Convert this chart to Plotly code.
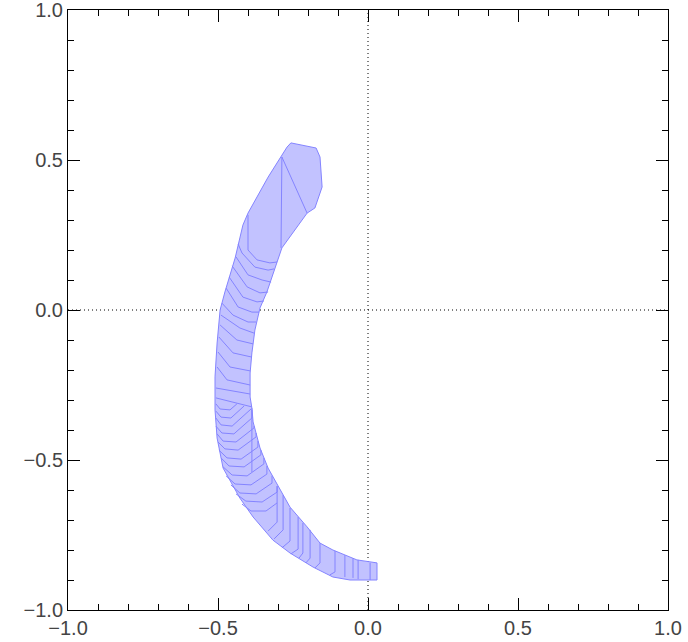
import plotly.graph_objects as go

# contorno de la media luna (borde exterior de abajo hacia arriba, luego borde interior)
borde_x = [0.030, -0.060, -0.117, -0.183, -0.260, -0.317, -0.383, -0.427, -0.483, -0.503,
           -0.510, -0.510, -0.503, -0.493, -0.477, -0.443, -0.417, -0.400, -0.333, -0.287,
           -0.270, -0.257, -0.173, -0.160, -0.153, -0.177, -0.203, -0.287, -0.303, -0.337,
           -0.360, -0.377, -0.387, -0.393, -0.393, -0.387, -0.383, -0.360, -0.333, -0.287,
           -0.260, -0.203, -0.160, -0.117, -0.037, 0.030, 0.030]
borde_y = [-0.900, -0.900, -0.890, -0.857, -0.810, -0.767, -0.690, -0.627, -0.527, -0.427,
           -0.333, -0.223, -0.110, 0.000, 0.060, 0.173, 0.283, 0.323, 0.443, 0.517,
           0.543, 0.557, 0.540, 0.510, 0.410, 0.340, 0.323, 0.207, 0.160, 0.060,
           0.007, -0.067, -0.143, -0.210, -0.290, -0.327, -0.373, -0.460, -0.527, -0.607,
           -0.657, -0.723, -0.777, -0.800, -0.833, -0.843, -0.900]

# bordes internos visibles de los poligonos superpuestos
lineas_x = [
    [-0.287, -0.290], [-0.287, -0.203],
    [-0.400, -0.400, -0.370, -0.327, -0.303],
    [-0.433, -0.420, -0.377, -0.333, -0.313],
    [-0.440, -0.400, -0.353, -0.323],
    [-0.453, -0.403, -0.360, -0.333],
    [-0.463, -0.417, -0.370, -0.347],
    [-0.473, -0.433, -0.387, -0.363],
    [-0.487, -0.450, -0.400, -0.373],
    [-0.490, -0.427, -0.380],
    [-0.493, -0.437, -0.383],
    [-0.497, -0.450, -0.387],
    [-0.500, -0.460, -0.393],
    [-0.503, -0.470, -0.393],
    [-0.507, -0.393],
    [-0.507, -0.387],
    [-0.507, -0.493, -0.460, -0.437],
    [-0.507, -0.490, -0.457, -0.413],
    [-0.507, -0.490, -0.453, -0.390],
    [-0.507, -0.487, -0.447, -0.387, -0.387],
    [-0.503, -0.483, -0.440, -0.380, -0.380],
    [-0.500, -0.477, -0.433, -0.373, -0.373],
    [-0.497, -0.470, -0.423, -0.367, -0.367],
    [-0.490, -0.463, -0.413, -0.357, -0.357],
    [-0.483, -0.453, -0.403, -0.347, -0.347],
    [-0.473, -0.443, -0.390, -0.337, -0.337],
    [-0.457, -0.427, -0.373, -0.320, -0.320],
    [-0.440, -0.407, -0.353, -0.303, -0.303],
    [-0.420, -0.390, -0.340, -0.303],
    [-0.387, -0.387],
    [-0.303, -0.303, -0.333],
    [-0.283, -0.283, -0.313],
    [-0.260, -0.260, -0.287],
    [-0.233, -0.233, -0.257],
    [-0.217, -0.217, -0.230],
    [-0.193, -0.193, -0.207],
    [-0.160, -0.160, -0.177],
    [-0.110, -0.110, -0.127],
    [-0.077, -0.077],
    [-0.050, -0.050],
    [-0.033, -0.033],
    [0.007, 0.007],
]
lineas_y = [
    [0.510, 0.207], [0.510, 0.323],
    [0.317, 0.200, 0.167, 0.157, 0.160],
    [0.220, 0.190, 0.143, 0.133, 0.137],
    [0.177, 0.117, 0.100, 0.093],
    [0.147, 0.077, 0.057, 0.060],
    [0.110, 0.043, 0.027, 0.030],
    [0.073, 0.010, -0.007, -0.007],
    [0.023, -0.017, -0.040, -0.040],
    [-0.017, -0.060, -0.077],
    [-0.050, -0.100, -0.113],
    [-0.090, -0.143, -0.157],
    [-0.140, -0.190, -0.203],
    [-0.190, -0.233, -0.250],
    [-0.260, -0.280],
    [-0.293, -0.323],
    [-0.313, -0.330, -0.333, -0.313],
    [-0.337, -0.357, -0.360, -0.320],
    [-0.360, -0.383, -0.387, -0.330],
    [-0.387, -0.410, -0.413, -0.360, -0.333],
    [-0.413, -0.437, -0.440, -0.393, -0.387],
    [-0.440, -0.463, -0.467, -0.423, -0.410],
    [-0.467, -0.493, -0.497, -0.457, -0.437],
    [-0.493, -0.520, -0.523, -0.483, -0.467],
    [-0.523, -0.550, -0.553, -0.513, -0.493],
    [-0.553, -0.580, -0.583, -0.547, -0.520],
    [-0.583, -0.610, -0.613, -0.577, -0.553],
    [-0.613, -0.637, -0.640, -0.607, -0.587],
    [-0.647, -0.670, -0.670, -0.643],
    [-0.327, -0.540],
    [-0.587, -0.707, -0.737],
    [-0.617, -0.733, -0.763],
    [-0.660, -0.770, -0.793],
    [-0.690, -0.797, -0.813],
    [-0.710, -0.810, -0.827],
    [-0.733, -0.827, -0.843],
    [-0.777, -0.843, -0.860],
    [-0.803, -0.873, -0.883],
    [-0.817, -0.890],
    [-0.827, -0.893],
    [-0.833, -0.897],
    [-0.843, -0.900],
]

valores_ticks = [-1.0, -0.5, 0.0, 0.5, 1.0]

RELLENO = "#c2c2ff"
BORDE = "#8484ff"

fig = go.Figure()

fig.add_trace(go.Scatter(x=borde_x, y=borde_y, mode="lines", fill="toself",
                         fillcolor=RELLENO, line=dict(color=BORDE, width=1),
                         hoverinfo="skip", showlegend=False))

xs, ys = [], []
for lx, ly in zip(lineas_x, lineas_y):
    xs += lx + [None]
    ys += ly + [None]
fig.add_trace(go.Scatter(x=xs, y=ys, mode="lines", line=dict(color=BORDE, width=1),
                         hoverinfo="skip", showlegend=False))

# ejes de referencia punteados
punteado = dict(color="black", width=1, dash="1px,3px")
fig.add_shape(type="line", x0=0, x1=0, y0=-1, y1=1, xref="x", yref="y",
              line=punteado, layer="below")
fig.add_shape(type="line", x0=-1, x1=1, y0=0, y1=0, xref="x", yref="y",
              line=punteado, layer="below")

eje = dict(range=[-1, 1], tickvals=valores_ticks, tickformat=".1f",
           ticks="inside", ticklen=12, tickwidth=1, tickcolor="black",
           minor=dict(ticks="inside", ticklen=6, dtick=0.1, tickcolor="black", showgrid=False),
           showline=True, linecolor="black", linewidth=1, mirror="allticks",
           showgrid=False, zeroline=False, automargin=False,
           ticklabeloverflow="allow",
           tickfont=dict(family="Liberation Sans", size=20, color="#444444"))

fig.update_layout(width=688, height=642, margin=dict(l=68, r=20, t=10, b=32),
                  plot_bgcolor="white", paper_bgcolor="white",
                  xaxis=eje, yaxis=eje)

fig.write_html("out.html", config={"displayModeBar": False},
               post_script="document.body.style.margin='0';")
